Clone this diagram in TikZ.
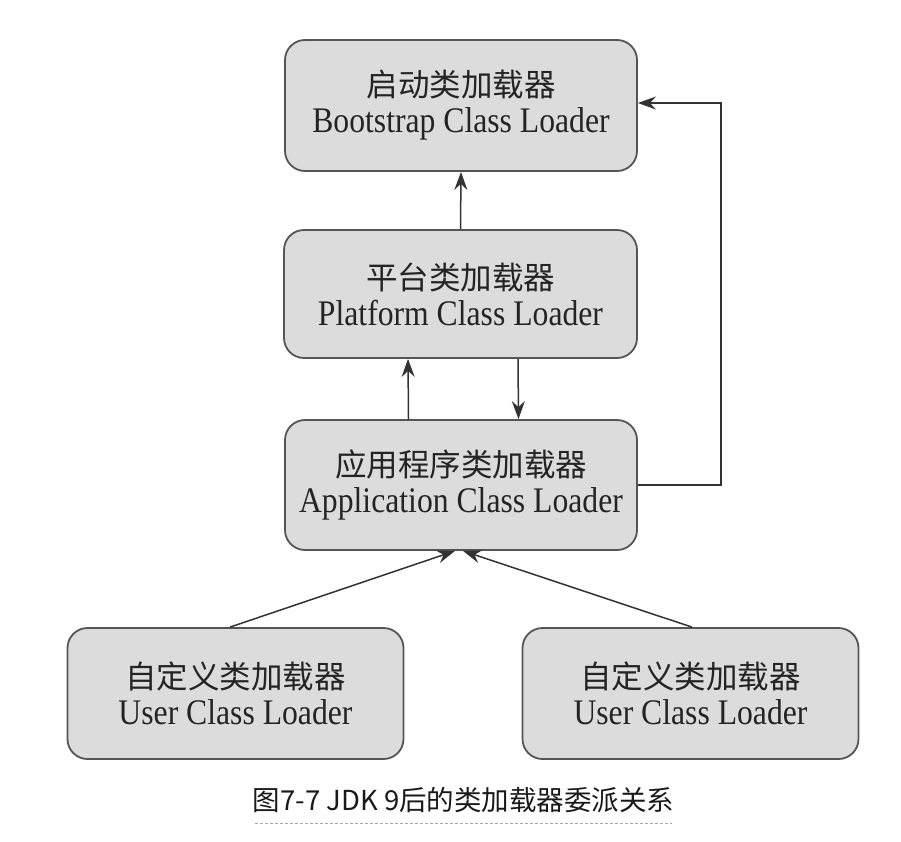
\documentclass[tikz,border=0pt]{standalone}
\usepackage{fontspec}
\setmainfont{Liberation Serif}
\newfontfamily\enfont{Liberation Serif}[FakeStretch=0.88]
\newfontfamily\cjkfont{Noto Sans CJK SC}
\usetikzlibrary{arrows.meta}
\definecolor{boxfill}{HTML}{DCDCDD}
\definecolor{boxline}{HTML}{555555}
\definecolor{inkc}{HTML}{242424}
\definecolor{arrc}{HTML}{333333}
\tikzset{
  loaderbox/.style={draw=boxline, fill=boxfill, line width=1.8pt,
    rounded corners=20pt, align=center, inner sep=0pt, text=inkc,
    font=\fontsize{31.5}{36}\selectfont},
  arr/.style={draw=arrc, line width=1.5pt,
    -{Stealth[length=18pt,width=13pt,inset=6pt]}},
}
\newcommand{\twolines}[2]{{\cjkfont #1}\\{\enfont\fontsize{36}{36}\selectfont #2}}
\begin{document}
\begin{tikzpicture}[x=1pt,y=-1pt]
\useasboundingbox (0,0) rectangle (901,841);
\node[loaderbox, minimum width=352pt, minimum height=131pt] (B) at (461,105.5)
  {\twolines{启动类加载器}{Bootstrap Class Loader}};
\node[loaderbox, minimum width=353pt, minimum height=128pt] (P) at (460.5,294)
  {\twolines{平台类加载器}{Platform Class Loader}};
\node[loaderbox, minimum width=352pt, minimum height=130pt] (A) at (461,485)
  {\twolines{应用程序类加载器}{Application Class Loader}};
\node[loaderbox, minimum width=336pt, minimum height=131pt] (UL) at (235.5,693.5)
  {\twolines{自定义类加载器}{User Class Loader}};
\node[loaderbox, minimum width=336pt, minimum height=131pt] (UR) at (690.5,693.5)
  {\twolines{自定义类加载器}{User Class Loader}};
\draw[arr] (P.north) -- (B.south);
\draw[arr] ([xshift=-52.5pt]A.north) -- ([xshift=-52.5pt]P.south);
\draw[arr] ([xshift=57.5pt]P.south) -- ([xshift=57.5pt]A.north);
\coordinate (turn) at (721,103);
\draw[arr] (A.east) -| (turn) -- (B.east |- turn);
\draw[arr] ([xshift=-5.5pt]UL.north) -- ([xshift=-6pt]A.south);
\draw[arr] ([xshift=1.5pt]UR.north) -- ([xshift=2pt]A.south);
\node[font=\cjkfont\fontsize{27.5}{28}\selectfont, text=black!90, inner sep=0pt] (cap) at (463.5,800)
  {图7-7 JDK 9后的类加载器委派关系};
\coordinate (ul1) at (255,823);
\coordinate (ul2) at (672,823);
\draw[draw=black!35, line width=0.9pt, dash pattern=on 3pt off 2pt] (ul1) -- (ul2);
\end{tikzpicture}
\end{document}
